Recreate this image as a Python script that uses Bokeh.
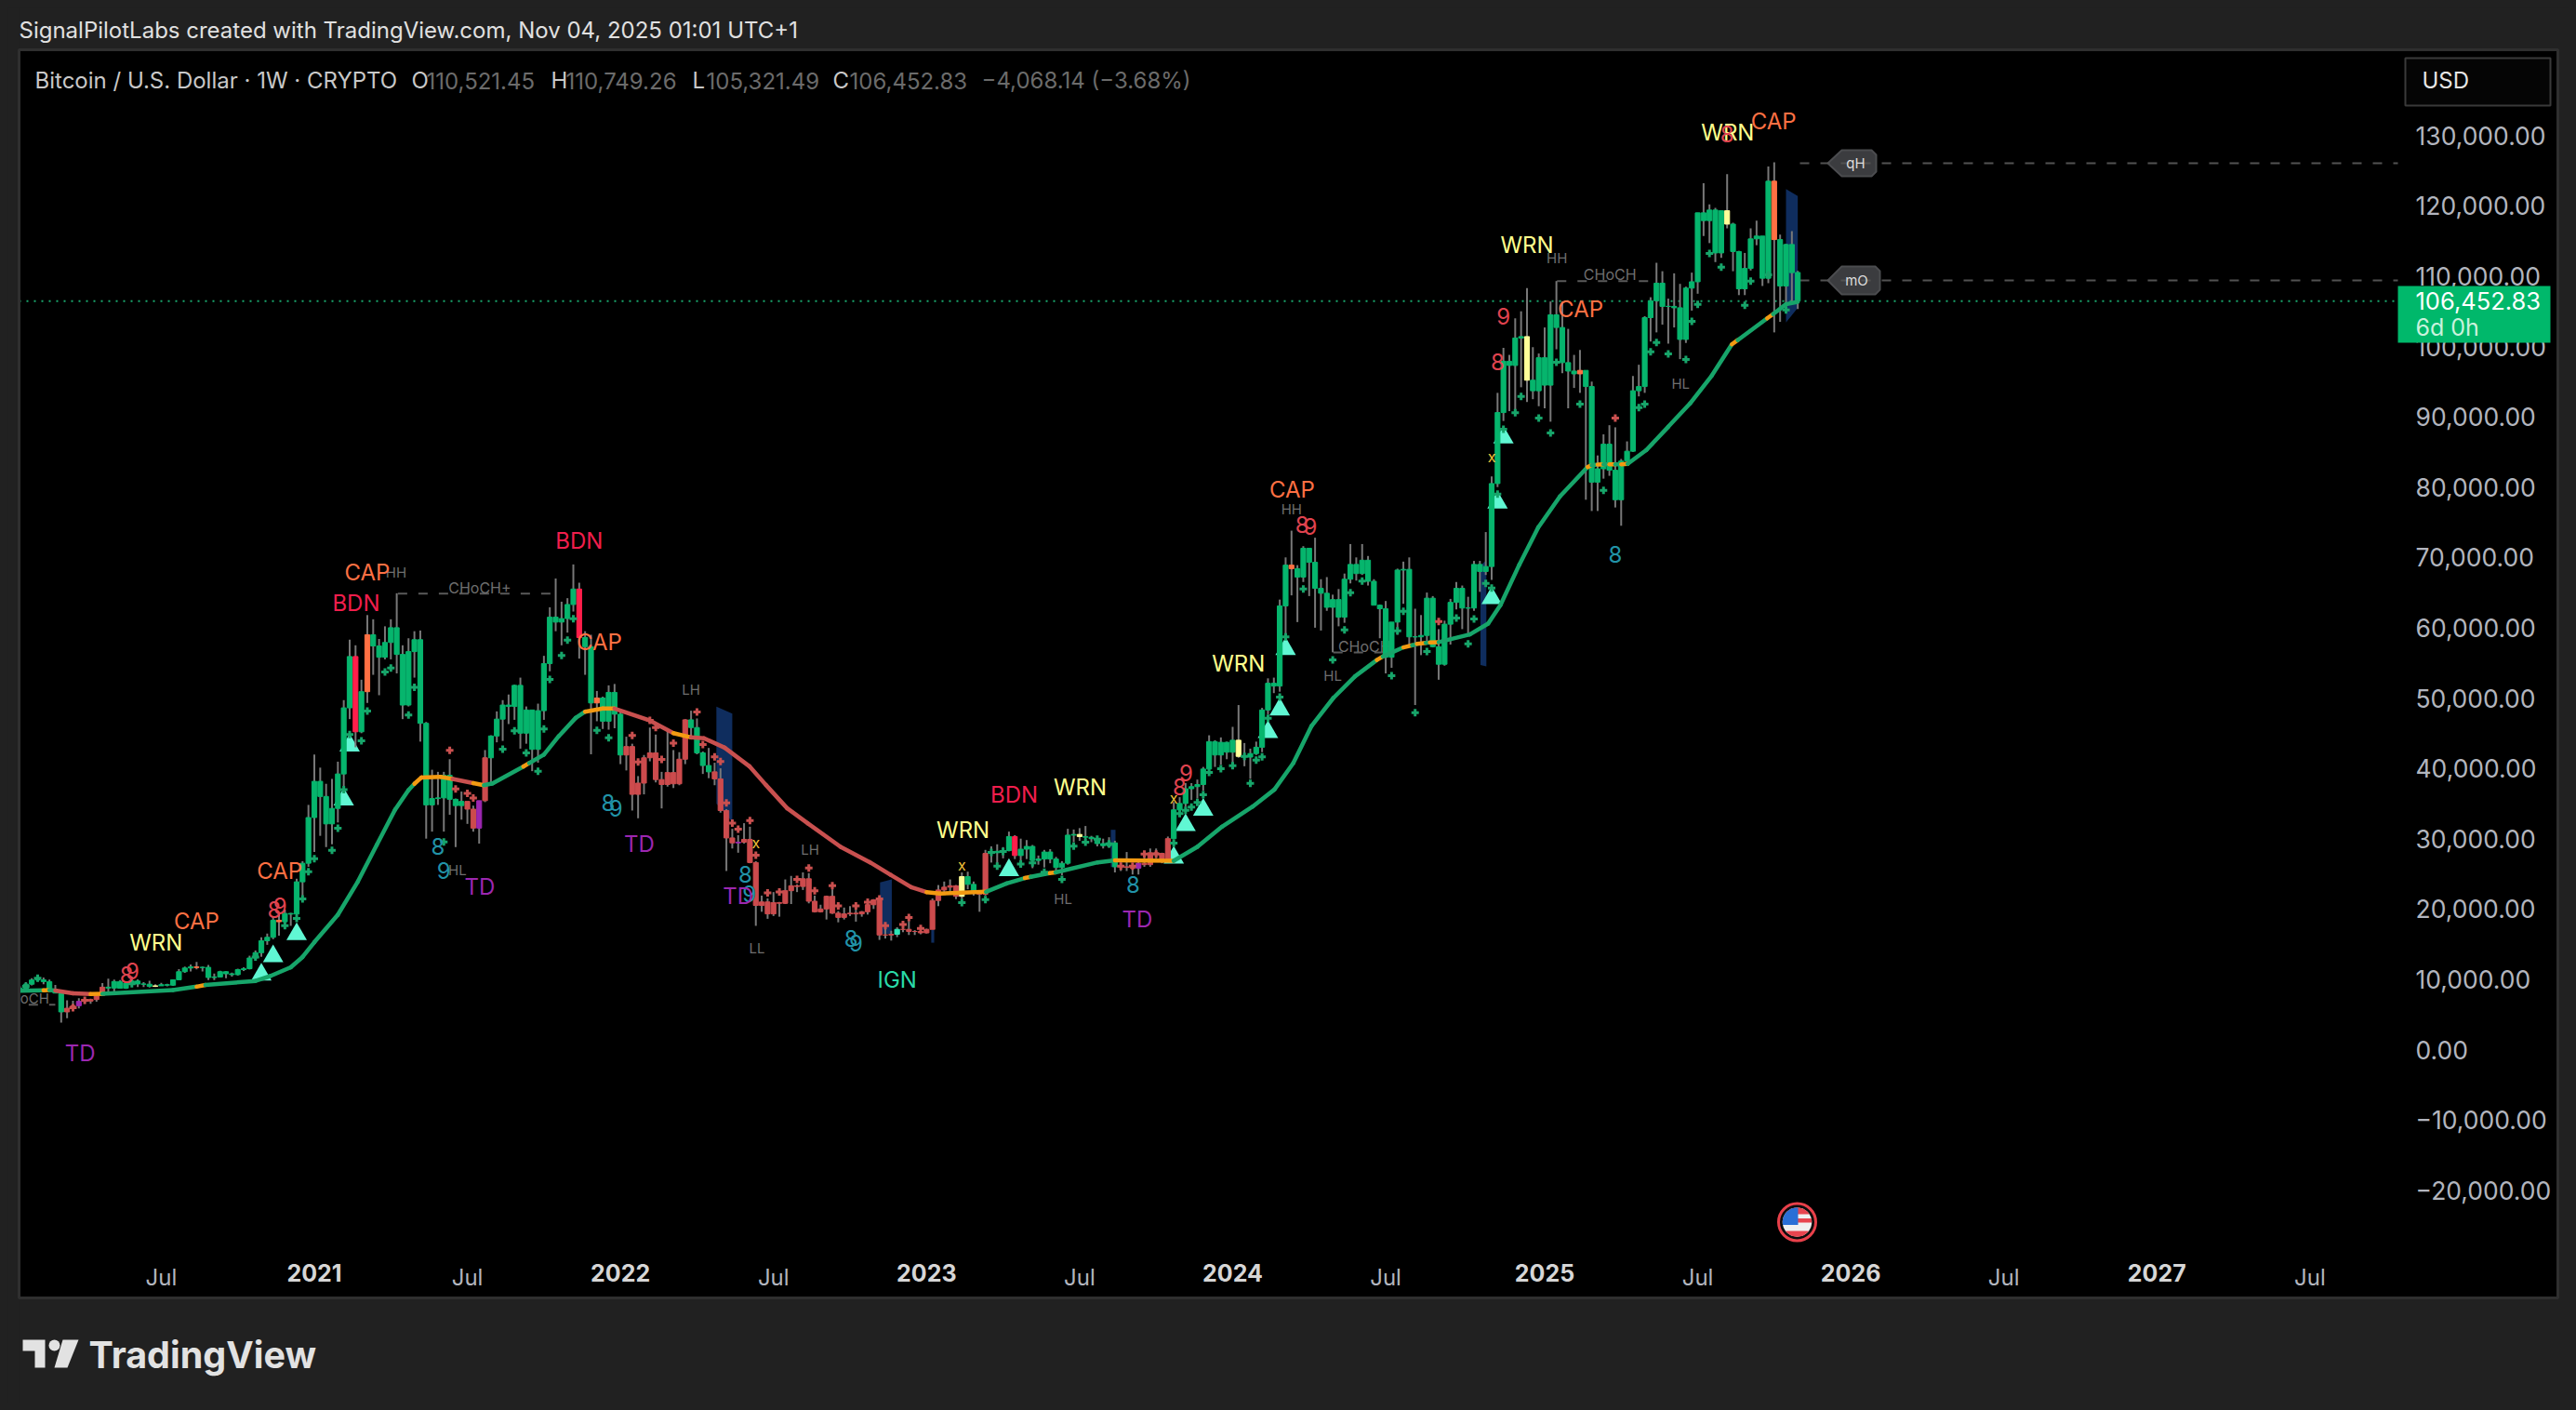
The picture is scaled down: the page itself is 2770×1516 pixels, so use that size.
import math
from bokeh.core.properties import value
from bokeh.embed import file_html
from bokeh.resources import INLINE
from bokeh.plotting import figure
from bokeh.models import ColumnDataSource, FixedTicker, LinearAxis, NumeralTickFormatter, Range1d

# ---------------- weekly candles (first bar: 13 Jan 2020, week index -51; 4 Jan 2021 is week 0)
opens_2020 = [8100,8700,8620,9300,9900,9920,9670,8530,8040,5360,5880,6240,6860,6900,7120,7700,8880,8750,9680,8720,9450,9750,9330,9300,9000,9070,9230,9160,9930,11080,11600,11760,11670,11700,10250,10330,11080,10780,10660,11370,11500,13030,13780,15480,15970,18400,18180,19360,19270,23860,26500]
highs_2020 = [9190,8990,9600,10150,10500,10240,9970,9190,8180,7000,6950,7300,7470,7240,7760,9470,10070,9950,9900,9700,10390,10000,9600,9780,9290,9480,9350,10000,11450,11800,12100,12480,11800,12050,10800,11200,11150,10950,11500,11700,13350,14100,15970,16500,18950,19500,19900,19450,24300,26800,34800]
lows_2020 = [8050,8270,8520,9120,9700,9300,8450,8410,3850,4450,5700,5850,6500,6500,6800,7630,8100,8200,8800,8630,9300,8900,8900,8830,8900,9050,9000,9050,9930,10900,11100,11400,11100,9900,9880,10240,10150,10380,10530,11170,11400,12900,13200,14900,15700,16200,18000,17600,19000,21900,26000]
closes_2020 = [8700,8620,9300,9900,9920,9670,8530,8040,5360,5880,6240,6860,6900,7120,7700,8880,8750,9680,8720,9450,9750,9330,9300,9000,9070,9230,9160,9930,11080,11600,11760,11670,11700,10250,10330,11080,10780,10660,11370,11500,13030,13780,15480,15970,18400,18180,19360,19270,23860,26500,33000]

opens_2021 = [33000,38150,36000,32100,34300,39200,48600,55900,45200,50900,59000,57400,55800,57900,60000,56200,49000,56600,58300,46400,34800,35700,35800,39000,35600,34700,35300,34200,31500,35400,41500,44600,47000,49000,48800,51800,45000,48300,42700,48200,54900,61500,60800,61300,63300,65500,58600,57300,49300,50000,46700,50800]
highs_2021 = [41950,40100,37800,38500,40950,49700,58300,57500,52600,61800,61200,58400,60200,61200,64900,57500,58500,59500,59600,46600,39800,39500,39500,41300,35700,36700,35100,34700,35400,42600,44700,48100,49700,50500,51900,52900,48800,47900,49200,56000,62900,67000,63700,64200,69000,66400,59500,59000,51000,50200,51800,52000]
lows_2021 = [28100,30400,28800,29200,32300,37400,47000,43000,45000,49300,53300,50400,55500,55500,53500,47000,48800,52900,43800,30000,31000,34800,31000,33400,28800,32700,32100,31000,29300,35200,37500,43700,43900,46300,46900,42800,43500,39600,40800,46900,53800,59500,57500,59300,62300,55600,53300,42000,46700,45600,45500,45700]
closes_2021 = [38150,36000,32100,34300,39200,48600,55900,45200,50900,59000,57400,55800,57900,60000,56200,49000,56600,58300,46400,34800,35700,35800,39000,35600,34700,35300,34200,31500,35400,41500,44600,47000,49000,48800,51800,45000,48300,42700,48200,54900,61500,60800,61300,63300,65500,58600,57300,49300,50000,46700,50800,47700]

opens_2022 = [47700,41900,43100,36300,37900,41500,42200,38400,37700,39400,37800,41300,46900,45800,42200,40400,39500,38500,34000,30100,29400,29500,29900,26600,20500,21000,19300,20900,20800,22600,23300,23200,24300,21100,19600,20000,21800,19400,18800,19300,19400,19300,19600,20600,21300,16300,16300,16400,17100,17100,16800,16800]
highs_2022 = [48000,44500,43500,38900,41900,45800,44800,39500,45400,42600,42300,47000,48200,47100,42400,42900,40800,40000,34200,31400,30500,32200,31700,26800,21900,21500,22400,21000,24200,24700,23500,25200,25100,21900,20600,21900,22800,19700,20200,20400,19900,19700,21000,21400,21400,17200,16900,17400,17400,18300,17000,16900]
lows_2022 = [40600,39700,34000,32900,36300,41000,38000,34300,37400,37200,37600,40600,44200,42000,39200,38600,37600,33700,25400,28600,28000,29300,26500,17600,19600,18600,19000,18900,20700,20700,22400,22700,20800,19500,19500,18500,19300,18100,18500,19000,18200,18900,19200,20000,15600,15800,15500,16000,16700,16300,16300,16400]
closes_2022 = [41900,43100,36300,37900,41500,42200,38400,37700,39400,37800,41300,46900,45800,42200,40400,39500,38500,34000,30100,29400,29500,29900,26600,20500,21000,19300,20900,20800,22600,23300,23200,24300,21100,19600,20000,21800,19400,18800,19300,19400,19300,19600,20600,21300,16300,16300,16400,17100,17100,16800,16800,16600]

opens_2023 = [16600,17100,21200,22700,23100,23300,21800,24600,23500,22400,22100,27900,28000,28200,28300,30300,27600,28500,28900,26900,27100,28100,27100,25900,26500,30500,30600,30300,30200,30000,29300,29000,29400,26000,26000,25900,25800,26500,26300,28000,27900,27100,30000,34100,35000,37100,37400,37700,39900,43800,41900,43700]
highs_2023 = [17200,21500,23400,23900,24200,23400,25200,25300,23900,22600,28400,28900,29200,28800,31000,30500,30000,29800,29100,27600,28400,28500,27400,26800,31400,31300,31500,31800,30400,30100,30000,30200,29700,26800,28100,26100,26900,27500,28600,28600,28000,30300,35200,35900,37900,37900,38400,40200,44700,44000,44400,43800]
lows_2023 = [16500,17100,20400,22300,22500,21400,21400,22800,21900,19600,21900,26600,26500,27200,28200,27100,26900,27100,25800,26300,25900,26500,25400,24800,26300,29500,29700,29900,29500,28900,28600,28700,25200,25400,25400,24900,24900,26000,26000,27200,26500,26900,29900,33400,34500,35500,35700,36800,39900,40200,40500,41300]
closes_2023 = [17100,21200,22700,23100,23300,21800,24600,23500,22400,22100,27900,28000,28200,28300,30300,27600,28500,28900,26900,27100,28100,27100,25900,26500,30500,30600,30300,30200,30000,29300,29000,29400,26000,26000,25900,25800,26500,26300,28000,27900,27100,30000,34100,35000,37100,37400,37700,39900,43800,41900,43700,42300]

opens_2024 = [42300,44000,41700,41600,42100,43000,48300,52100,51700,63100,68900,68400,67200,71300,69300,65600,64900,62900,64000,61500,66900,69000,67700,69600,66600,63200,62700,55800,60800,68200,68300,58700,58700,58900,64200,57300,54800,60500,63600,65600,62800,62800,69000,68000,68700,80500,90600,97900,97300,101200,101400,95200,93700]
highs_2024 = [45900,49000,43600,42800,43800,48600,52800,52900,64000,70000,73800,68900,71600,71300,72800,66900,67200,64700,65500,67700,71900,70000,71900,70200,66900,63300,63800,60800,68400,69400,70000,62700,61800,65000,64500,59800,61000,64100,66500,66000,64400,69500,69500,73600,81500,93400,99800,98800,104000,105000,108300,99900,99000]
lows_2024 = [40700,41500,40300,38500,41900,42300,47700,50700,50900,59000,64600,60800,66500,64500,60000,59600,62400,56500,60200,60700,66300,66700,67500,66000,63300,58500,53500,54300,59000,63400,57200,49000,56100,57800,57200,52600,54600,57600,62600,59800,58900,62400,65100,67500,66800,80000,89400,90800,90500,94200,92100,92500,91500]
closes_2024 = [44000,41700,41600,42100,43000,48300,52100,51700,63100,68900,68400,67200,71300,69300,65600,64900,62900,64000,61500,66900,69000,67700,69600,66600,63200,62700,55800,60800,68200,68300,58700,58700,58900,64200,57300,54800,60500,63600,65600,62800,62800,69000,68000,68700,80500,90600,97900,97300,101200,101400,95200,93700,98400]

opens_2025 = [98400,94500,104500,102700,97700,96500,96100,96600,94300,80700,82600,86100,82400,78200,83700,85100,93700,94300,104100,106500,109000,105700,105700,105500,101000,108300,109200,119000,117900,119400,113300,119300,117400,113500,108200,111100,115300,115700,109700,123500,115200,108600,114500,110521.45]
highs_2025 = [102700,106400,109300,106400,102500,98800,99500,96500,95000,84500,87500,88800,88500,84000,86500,95800,97400,104300,107000,111900,110700,106800,110400,108900,108500,110500,119000,123200,120200,119700,119300,124500,117600,113600,113300,116800,117900,115500,125600,126200,115900,114600,116400,110749.26]
lows_2025 = [91200,89300,99600,96200,91200,94100,93400,78200,76600,76600,81200,81600,77100,74500,83100,85000,92900,93400,100700,102000,103100,100400,102700,98200,100500,105100,107500,115700,114700,112000,112600,116800,110700,107300,107300,110800,114400,108600,109000,102000,103500,106100,106300,105321.49]
closes_2025 = [94500,104500,102700,97700,96500,96100,96600,94300,80700,82600,86100,82400,78200,83700,85100,93700,94300,104100,106500,109000,105700,105700,105500,101000,108300,109200,119000,117900,119400,113300,119300,117400,113500,108200,111100,115300,115700,109700,123500,115200,108600,114500,110500,106452.83]

# regime colouring of the candle bodies (week index ranges and single weeks)
red_week_spans = [(-42, -36), (26, 29), (53, 63), (68, 109), (113, 114), (137, 145)]
body_special_weeks = {-40: "purple", -27: "yellow", -20: "orange", -6: "orange", 7: "bright", 9: "orange", 28: "purple", 45: "bright", 48: "orange",
                      72: "purple", 99: "teal", 110: "yellow", 119: "bright", 130: "yellow", 140: "purple", 157: "yellow", 166: "orange",
                      206: "yellow", 215: "orange", 240: "yellow", 248: "orange"}

# smoothed trend line: week, price, regime of the stretch that follows
trend_weeks = [-50,-46,-45,-44,-41,-38,-36,-24,-20,-18.5,-10,-7.5,-4,-2,0,4,7.4,10.6,13.7,16,17,18.2,21.4,23.5,27,28.8,30.3,35.5,36.5,39,41.5,44.4,46,49,51,57,61,64,66.2,69.7,73.9,76.7,80.3,83.8,89.4,94.4,97.9,101.4,104,106.3,114.1,117.6,120.7,121.7,124.9,125.9,133.1,136,146,150,154.2,159.4,163.1,166.3,169.4,173.1,176.8,180.5,181.5,185,186.5,187.3,188.8,189.5,191,196.3,199.4,201.5,204.7,207.9,211.6,216.3,217,218,219,220,221,222,223.1,226.3,230,233.7,237.4,240.8,241.8,246.8,247.8,250,252]
trend_prices = [8360,8440,8470,8400,8000,7890,7930,8470,8950,9200,9770,10450,11700,13170,15270,19180,23900,29100,34100,36900,37800,38700,38800,38500,37900,37600,37860,40250,40750,41950,44550,47170,48060,48500,48500,46800,45000,44400,44270,42940,40300,37650,34340,32200,28830,26630,24860,23100,22400,22200,22440,23630,24400,24560,25100,25200,26630,26930,26850,28840,31700,34570,36990,40740,46030,50000,53090,55400,55900,57200,57500,57700,57850,57900,57950,59040,60580,63230,68960,74250,78660,82850,83100,83200,83250,83250,83250,83250,83300,85280,88580,91890,95860,100300,100900,104000,104600,106000,106350]
trend_regimes = "GOGRROGGOG" "GGGGGGGGGG" "OOOROGGOGG" "GGOORRORRR" "RRRRRRRROO" "GGOGOGGOGG" "GGGGGGGOGO" "GOGOGGGGGG" "GOGOGOGOGG" "GGGOGOGG"

# break-of-trend markers
up_arrow_weeks = [-9,-7,-3,5,6,118,146,148,151,162,164,165,200,201,202]
up_arrow_prices = [10660,13280,16415,35560,43245,25523,27290,31918,34100,45150,48370,56970,64200,77800,87040]

plus_green_weeks = [9,8,12,13,16,17,22,32,34,36,38,39,40,42,43,44,48,50,4,3,0,-1,-2,-3,-5,-10,5,6,-47,-49,-31,110,114,116,115,117,120,122,124,127,129,131,133,135,146,147,148,149,150,151,152,154,156,158,159,160,161,162,164,165,168,173,175,176,178,183,184,185,187,189,194,196,197,199,200,201,202,204,205,208,210,211,215,219,225,226,227,228,230,233,234,235,237,239,243,244,247,250]
plus_green_prices = [48160,43925,53700,54280,47585,51510,29540,42720,45340,42200,39580,45600,52660,56060,58250,61290,45390,44340,31480,28340,27135,25300,21435,18660,17620,13170,36970,44815,10140,8990,9355,20890,21330,26100,28040,28170,26400,26540,25220,24200,28920,29490,29930,29270,29370,33555,34040,34480,35140,36245,39420,39950,40390,41710,37880,41180,41625,47135,50130,58690,65520,55420,59700,64990,66620,53175,59570,62350,47930,56615,61375,57720,61245,66315,65655,79010,88230,90565,92900,89815,87700,97750,91800,79545,91315,91800,99250,100575,98945,98150,103570,105995,113230,111290,105865,109305,110185,105205]
plus_red_weeks = [23,24,26,27,54,55,-39,-41,57,58,59,61,65,66,68,69,70,71,72,74,75,77,79,82,84,85,88,89,92,94,96,97,100,101,103,137,139,141,143,191,221]
plus_red_prices = [42565,37075,36445,35765,44660,40890,7000,5955,46825,45810,41270,43600,48010,43385,41620,40960,35090,32225,31345,32580,27640,22300,22435,24200,25830,22570,23320,20450,20450,20980,21420,17630,17800,18780,17230,26100,26100,27820,27820,60890,89815]

# dark zones: week span, upper and lower edge prices at each side
zone_week_left = [68.3,96.1,104.8,135.3,198.1,250]
zone_week_right = [71,98.1,105.3,136.1,199.1,252]
zone_top_left = [48770,23760,17000,31260,68800,122400]
zone_top_right = [47800,24200,17000,31260,69600,121400]
zone_bottom_left = [35000,16480,15200,25960,54700,103400]
zone_bottom_right = [32360,16480,15200,25960,54500,105500]

# annotation words
label_texts = ["TD","WRN","CAP","8","9","8","9","CAP","CAP","BDN","BDN","CAP","8","9","TD","8","9","TD","8","9","TD","8","9","IGN","WRN","BDN","WRN","8","TD","9","8","WRN","CAP","8","9","WRN","CAP","9","8","8","WRN","8","CAP"]
label_weeks = [-39.8,-26.9,-20,-31.9,-30.9,-6.8,-5.8,-5.9,9,7.1,45,48.4,21,22,28.1,49.9,51.2,55.2,73.2,73.9,72,91.2,92,99,110.2,118.9,130.1,139.1,139.8,148.1,147,157,166.1,167.8,169.2,206,215.1,202,201,221,240.1,240,247.9]
label_prices = [-530,15160,18300,10660,11200,19860,20390,25460,67800,63540,72300,58000,28860,25460,23110,35140,34350,29180,24950,22215,21780,15820,15160,9870,31260,36240,37340,23540,18560,39410,37430,54850,79670,74690,74380,114370,105340,104320,97840,70420,130470,130250,132010]
label_kinds = ["td","wrn","cap","r9","r9","r9","r9","cap","cap","bdn","bdn","cap","t9","t9","td","t9","t9","td","t9","t9","td","t9","t9","ign","wrn","bdn","wrn","t9","td","r9","r9","wrn","cap","r9","r9","wrn","cap","r9","r9","t9","wrn","r9","cap"]
label_colors = {"td":"#9c27b0","wrn":"#ffff8d","cap":"#ff7043","bdn":"#f01e4c","ign":"#2ad9a8","r9":"#e0434f","t9":"#2193a8"}

structure_texts = ["HH","HL","LH","LL","LH","HL","HH","HL","oCH","HH","HL"]
structure_weeks = [13.9,24.3,64,75.2,84.2,127.2,166,173,-47.5,211.1,232.1]
structure_prices = [67800,25570,51190,14370,28390,21470,76800,53220,7260,112520,94750]

choch_texts = ["CHoCH+","CHoCH","CHoCH"]
choch_text_weeks = [28.1,178.4,220.1]
choch_text_prices = [65730,57280,110190]
choch_week_from = [14.2,173.1,211.1,-52]
choch_week_to = [41.2,182.6,226.6,-44]
choch_price = [64840,56480,109300,6370]

x_marks_weeks = [75,110,146,200]
x_marks_prices = [29490,26270,35800,84300]

level_prices = [126060,109400]
last_price = 106452.83

y_ticks = [-20000,-10000,0,10000,20000,30000,40000,50000,60000,70000,80000,90000,100000,110000,120000,130000]
year_ticks = [0,52,104,156,209,261,313]
year_labels = ["2021","2022","2023","2024","2025","2026","2027"]
july_ticks = [-26,26,78,130,182,235,287,339]

opens = opens_2020+opens_2021+opens_2022+opens_2023+opens_2024+opens_2025
highs = highs_2020+highs_2021+highs_2022+highs_2023+highs_2024+highs_2025
lows = lows_2020+lows_2021+lows_2022+lows_2023+lows_2024+lows_2025
closes = closes_2020+closes_2021+closes_2022+closes_2023+closes_2024+closes_2025
assert len(opens) == len(highs) == len(lows) == len(closes) == 304, (len(opens), len(highs), len(lows), len(closes))
assert len(trend_regimes) == len(trend_weeks) - 1 and len(trend_weeks) == len(trend_prices), (len(trend_regimes), len(trend_weeks), len(trend_prices))
weeks = list(range(-51, 253))

# ---------------- page geometry
def X(px): return (px - 337.5) / 6.33
def Y(py): return (1128 - py) / 75.6 * 10000

p = figure(width=2754, height=1500, output_backend="svg", toolbar_location=None,
           x_range=Range1d(X(8), X(2762)), y_range=Range1d(Y(1508), Y(8)),
           x_axis_type=None, y_axis_type=None, min_border=0,
           background_fill_color="#212121", border_fill_color="#212121", outline_line_color=None)
p.grid.visible = False

GREEN = "#06b56d"
BODY = {"green": GREEN, "red": "#cc4b4d", "bright": "#ff1f4b", "orange": "#ff7043", "yellow": "#ffff99", "purple": "#9c27b0", "teal": "#2fe6b7"}
def kind_of(w):
    if w in body_special_weeks:
        return body_special_weeks[w]
    return "red" if any(a <= w <= b for a, b in red_week_spans) else "green"
body_colors = [BODY[kind_of(w)] for w in weeks]

FONT = "Inter"

# black chart panel
p.quad(left=[X(20)], right=[X(2750)], top=[Y(53)], bottom=[Y(1395)], fill_color="#000000", line_color=None, level="underlay")

# zones
zone_xs = [[a, b, b, a] for a, b in zip(zone_week_left, zone_week_right)]
zone_ys = [[a, b, c, d] for a, b, c, d in zip(zone_top_left, zone_top_right, zone_bottom_right, zone_bottom_left)]
p.patches(zone_xs, zone_ys, fill_color="#0f2d5e", line_color=None)

# levels
r_last = p.segment(x0=[X(20)], x1=[X(2578)], y0=[last_price], y1=[last_price], line_color="#1aa56c", line_width=2)
r_last.glyph.line_dash = [2, 6]

# callouts
for tip_y, right_px, txt in [(175, 2017, "qH"), (301, 2021, "mO")]:
    h = 14 if txt == "qH" else 15
    xs = [1965, 1980, right_px - 5, right_px, right_px, right_px - 5, 1980]
    ys = [tip_y, tip_y - h, tip_y - h, tip_y - h + 5, tip_y + h - 5, tip_y + h, tip_y + h]
    p.patch([X(v) for v in xs], [Y(v) for v in ys], fill_color="#3b3c3f", line_color="#4b4c4f", line_width=2)
r_lv = p.segment(x0=[X(1935)] * 2, x1=[X(2578)] * 2, y0=level_prices, y1=level_prices, line_color="#525252", line_width=2)
r_lv.glyph.line_dash = [10, 12]

# structure lines and texts (beneath the candles)
r_ch = p.segment(x0=choch_week_from, x1=choch_week_to, y0=choch_price, y1=choch_price, line_color="#5a5a5a", line_width=2)
r_ch.glyph.line_dash = [10, 12]
p.text(choch_text_weeks, choch_text_prices, text=choch_texts, text_color="#6e6e6e", text_font=value(FONT), text_font_size="16px", text_align="center", text_baseline="middle")
p.text(structure_weeks, structure_prices, text=structure_texts, text_color="#6e6e6e", text_font=value(FONT), text_font_size="15px", text_align="center", text_baseline="middle")

# up arrows
p.scatter(up_arrow_weeks, up_arrow_prices, marker="triangle", size=22, fill_color="#60f7d3", line_color=None)

# candles
src = ColumnDataSource(dict(w=weeks, o=opens, h=highs, l=lows, c=closes, col=body_colors,
                            top=[max(a, b) for a, b in zip(opens, closes)], bot=[min(a, b) for a, b in zip(opens, closes)]))
p.segment(x0="w", x1="w", y0="l", y1="h", source=src, line_color="#787878", line_width=2)
p.vbar(x="w", width=0.82, top="top", bottom="bot", source=src, fill_color="col", line_color="col", line_width=1)

# trend line
stretch = {"G": "#17a56a", "R": "#c9504f", "O": "#f39a12"}
seg_x = [[trend_weeks[i], trend_weeks[i + 1]] for i in range(len(trend_weeks) - 1)]
seg_y = [[trend_prices[i], trend_prices[i + 1]] for i in range(len(trend_prices) - 1)]
seg_c = [stretch[c] for c in trend_regimes]
p.multi_line(seg_x, seg_y, line_color=seg_c, line_width=4.5, line_cap="round")

# plus marks
p.scatter(plus_green_weeks, plus_green_prices, marker="plus", size=8, fill_color="#17a56a", line_color=None)
p.scatter(plus_red_weeks, plus_red_prices, marker="plus", size=8, fill_color="#c9504f", line_color=None)

# annotation words
p.text(label_weeks, label_prices, text=label_texts, text_color=[label_colors[k] for k in label_kinds], text_font=value(FONT), text_font_size="24px", text_align="center", text_baseline="middle")
p.text(x_marks_weeks, x_marks_prices, text=["x"] * len(x_marks_weeks), text_color="#f2c23a", text_font=value(FONT), text_font_size="16px", text_align="center", text_baseline="middle")

# news flag
cx, cy, r = 1932.0, 1313.5, 15.7
p.scatter([X(cx)], [Y(cy)], marker="circle", size=40, fill_color="#0d0d0d", line_color="#e8404a", line_width=3)
def band(y0, y1, xmax=None, n=24):
    left, right = [], []
    for i in range(n + 1):
        yy = y0 + (y1 - y0) * i / n
        half = math.sqrt(max(r * r - (yy - cy) ** 2, 0))
        left.append((cx - half, yy))
        rx = cx + half if xmax is None else min(cx + half, xmax)
        right.append((max(rx, cx - half), yy))
    pts = left + right[::-1]
    return [X(a) for a, _ in pts], [Y(b) for _, b in pts]
for y0, y1, col, xmax in [(cy - r, cy + r, "#f0f0f0", None), (cy - r, cy - 8.5, "#e8454f", None), (cy - 4, cy + 0.5, "#e8454f", None),
                          (cy + 9.5, cy + r, "#e8454f", None), (cy - r, cy + 3, "#2a6fd6", cx + 1)]:
    xs_, ys_ = band(y0, y1, xmax)
    p.patch(xs_, ys_, fill_color=col, line_color=None)

# band that hides bars running past the left edge, and the panel edge
p.quad(left=[X(8)], right=[X(20)], top=[Y(8)], bottom=[Y(1508)], fill_color="#212121", line_color=None, level="annotation")
p.quad(left=[X(20)], right=[X(2750)], top=[Y(53)], bottom=[Y(1395)], fill_color=None, line_color="#2f2f2f", line_width=3, level="annotation")

# axes drawn inside the panel
y_axis = LinearAxis(fixed_location=X(2589), ticker=FixedTicker(ticks=y_ticks), formatter=NumeralTickFormatter(format="0,0.00"),
                    major_label_overrides={-20000: "\u221220,000.00", -10000: "\u221210,000.00"},
                    axis_line_color=None, major_tick_line_color=None, minor_tick_line_color=None,
                    major_label_text_color="#b2b5be", major_label_text_font=FONT, major_label_text_font_size="26.5px", major_label_standoff=2)
p.add_layout(y_axis, "right")
year_axis = LinearAxis(fixed_location=Y(1347), ticker=FixedTicker(ticks=year_ticks), major_label_overrides=dict(zip(year_ticks, year_labels)),
                       axis_line_color=None, major_tick_line_color=None, minor_tick_line_color=None,
                       major_label_text_color="#d6d6d6", major_label_text_font=FONT, major_label_text_font_style="bold", major_label_text_font_size="25px", major_label_standoff=5)
p.add_layout(year_axis, "below")
july_axis = LinearAxis(fixed_location=Y(1347), ticker=FixedTicker(ticks=july_ticks), major_label_overrides={t: "Jul" for t in july_ticks},
                       axis_line_color=None, major_tick_line_color=None, minor_tick_line_color=None,
                       major_label_text_color="#b2b5be", major_label_text_font=FONT, major_label_text_font_size="24px", major_label_standoff=5)
p.add_layout(july_axis, "below")

# price tag, USD box
p.quad(left=[X(2578)], right=[X(2742)], top=[Y(307)], bottom=[Y(368)], fill_color="#00b86b", line_color=None, level="overlay")
p.quad(left=[X(2586)], right=[X(2742)], top=[Y(62)], bottom=[Y(113)], fill_color="#050505", line_color="#3a3a3a", line_width=2, level="overlay")

def put(px, py, txt, color, size, weight="normal", align="left"):
    p.text([X(px)], [Y(py)], text=[txt], text_color=color, text_font=value(FONT), text_font_size=f"{size}px",
           text_font_style=weight, text_align=align, text_baseline="middle", level="overlay")

put(2597, 323, "106,452.83", "#ffffff", 25.5)
put(2597, 351, "6d 0h", "#c9f2dd", 25)
put(2604, 86, "USD", "#e6e6e6", 24)
put(1995, 175, "qH", "#dddddd", 15, align="center")
put(1996, 301, "mO", "#dddddd", 15, align="center")

put(20, 32, "SignalPilotLabs created with TradingView.com, Nov 04, 2025 01:01 UTC+1", "#e0e0e0", 24)
put(37, 86, "Bitcoin / U.S. Dollar \u00b7 1W \u00b7 CRYPTO", "#c8c8c8", 24)
DIM = "#6b6b6b"
for px, txt, col in [(442, "O", "#c8c8c8"), (458, "110,521.45", DIM), (592, "H", "#c8c8c8"), (608, "110,749.26", DIM), (744, "L", "#c8c8c8"), (759, "105,321.49", DIM),
                     (895, "C", "#c8c8c8"), (913, "106,452.83", DIM), (1055, "\u22124,068.14 (\u22123.68%)", DIM)]:
    put(px, 86, txt, col, 24)

# logo
LOGO = "#e2e2e2"
p.patch([X(v) for v in [24, 48, 48, 37, 37, 24]], [Y(v) for v in [1440, 1440, 1470, 1470, 1452, 1452]], fill_color=LOGO, line_color=None, level="overlay")
p.patch([X(v) for v in [67, 84, 72, 58]], [Y(v) for v in [1440, 1440, 1470, 1470]], fill_color=LOGO, line_color=None, level="overlay")
p.scatter([X(58)], [Y(1446)], marker="circle", size=12, fill_color=LOGO, line_color=None, level="overlay")
put(95, 1456, "TradingView", LOGO, 39.5, weight="bold")

html = file_html(p, INLINE)
html = html.replace("<body>", '<body style="background:#212121;margin:8px">')
open("out.html", "w").write(html)
